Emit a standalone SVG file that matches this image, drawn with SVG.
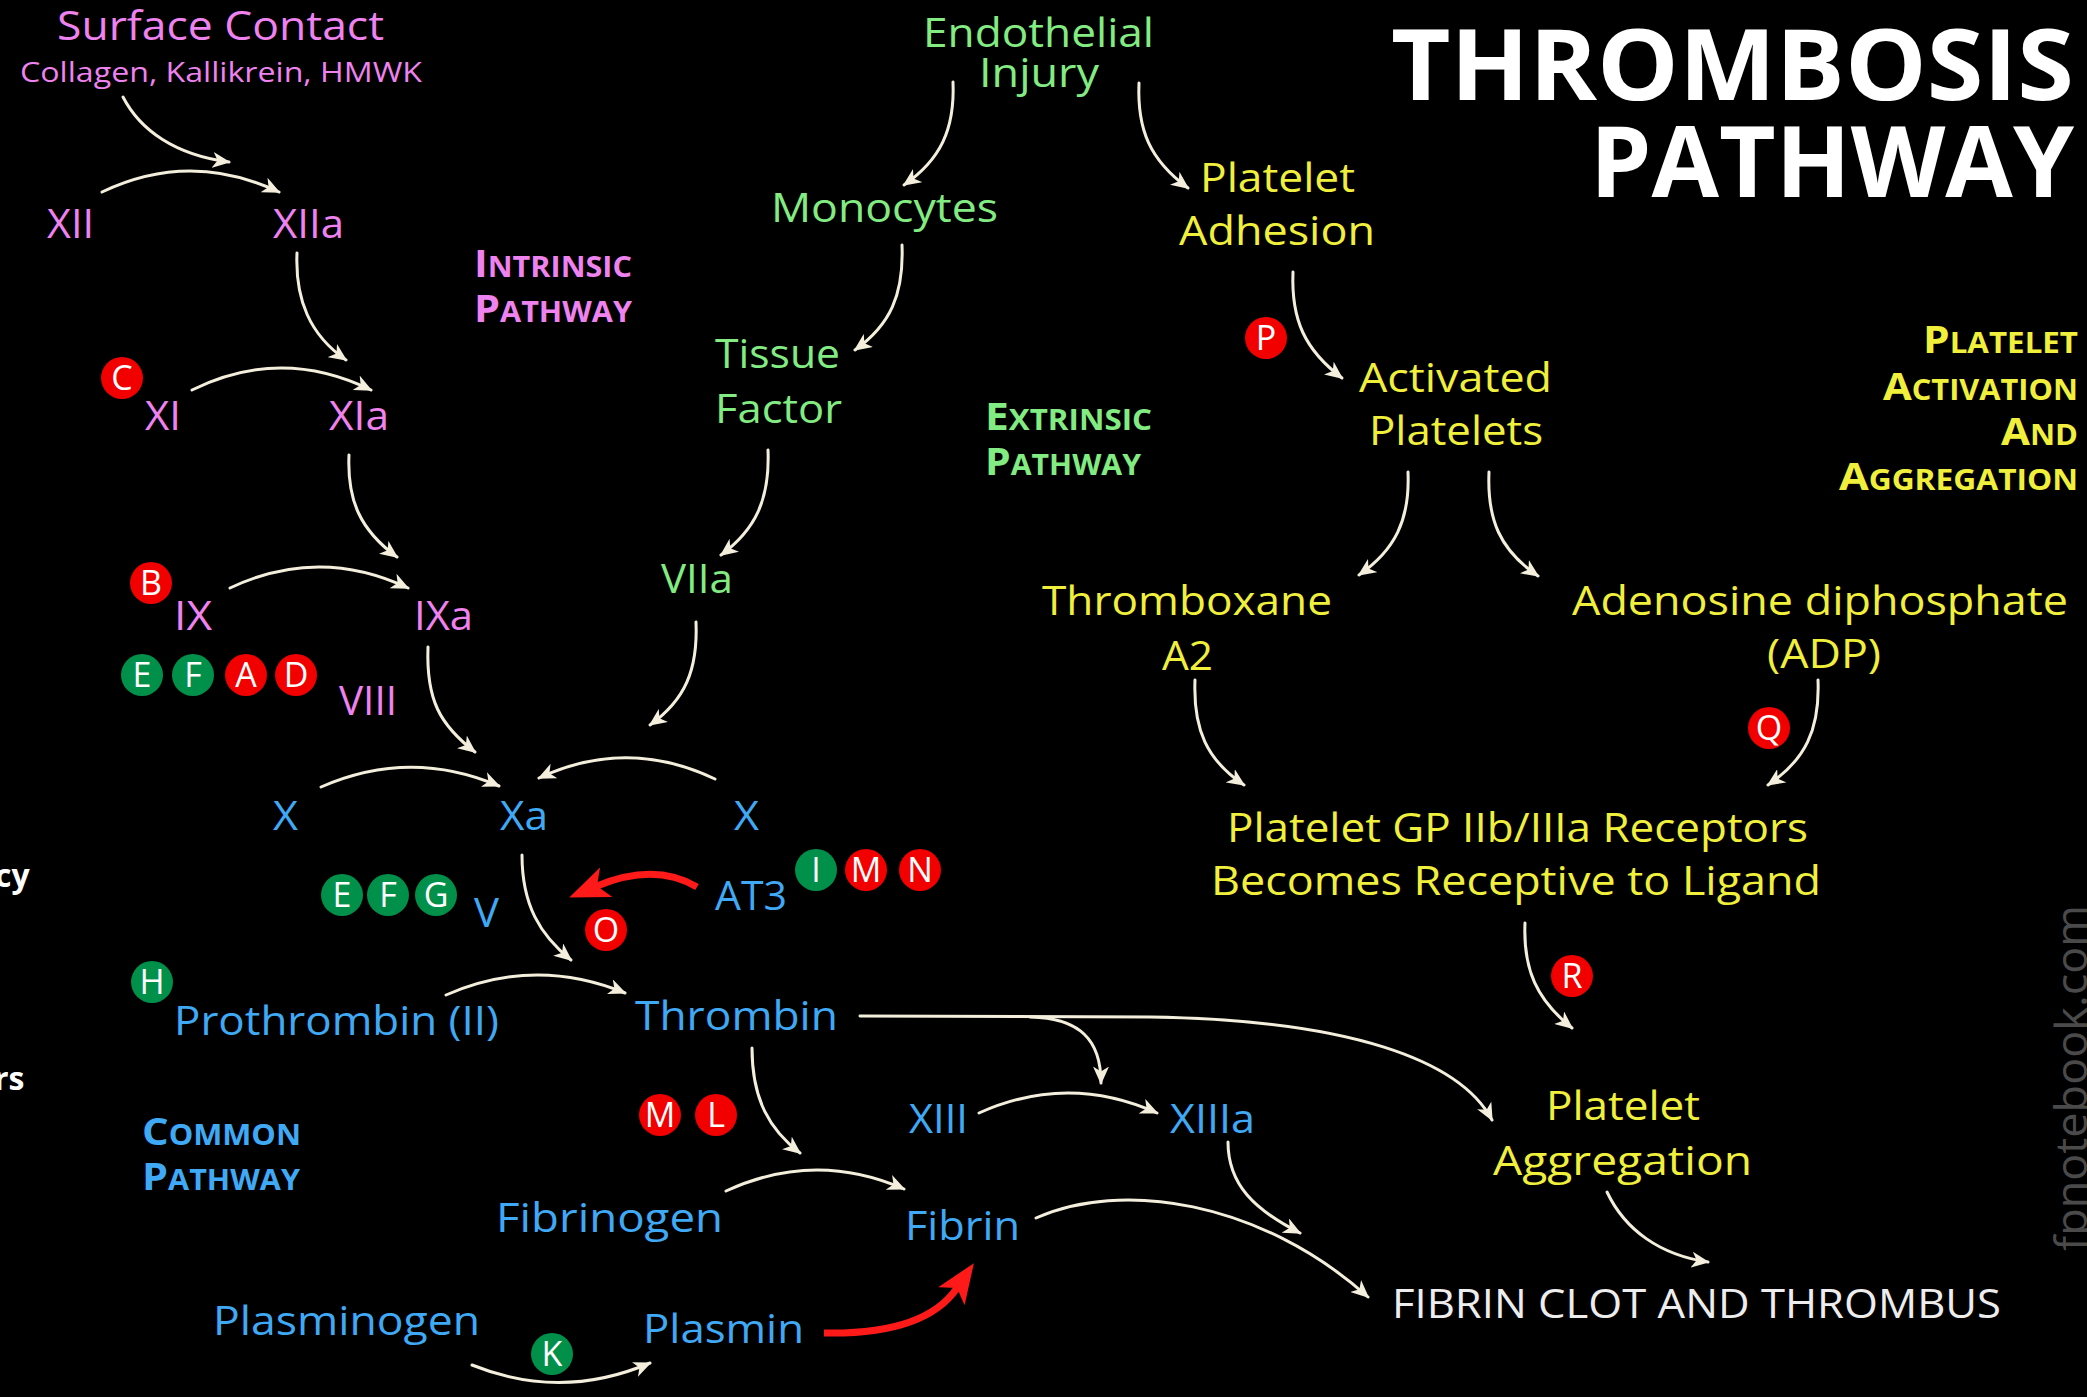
<svg xmlns="http://www.w3.org/2000/svg" width="2087" height="1397" viewBox="0 0 2087 1397">
<defs>
<style>
text{font-family:"Open Sans","Noto Sans","Liberation Sans",sans-serif;}
.n{font-size:40px;}
.pk{fill:#EE82EE}
.gr{fill:#82EC82}
.ye{fill:#F0F03C}
.bu{fill:#3FA9F5}
.wt{fill:#EDEDED}
.hd{font-weight:700;font-size:38px}
.sc{font-size:28px}
.c{fill:none;stroke:#F3EFDC;stroke-width:3;stroke-linecap:round;marker-end:url(#ah)}
.r{fill:none;stroke:#FF1A1A;stroke-width:7;marker-end:url(#rh)}
.bR{fill:#F20000}
.bG{fill:#00904A}
.bl{font-size:34px;fill:#FFFFFF;text-anchor:middle}
</style>
<marker id="ah" markerUnits="userSpaceOnUse" viewBox="0 0 20 16" markerWidth="20" markerHeight="16" refX="16.5" refY="8" orient="auto"><path d="M0,0 L18,8 L0,16 L5,8 Z" fill="#F3EFDC"/></marker>
<marker id="rh" markerUnits="userSpaceOnUse" viewBox="0 0 42 32" markerWidth="42" markerHeight="32" refX="10" refY="16" orient="auto"><path d="M0,0 L40,16 L0,32 L10,16 Z" fill="#FF1A1A"/></marker>
</defs>
<rect width="2087" height="1397" fill="#000000"/>

<g id="connectors">
<path class="c" d="M123,97 C140,130 175,155 229,162"/>
<path class="c" d="M102,192 Q190,150 279,192"/>
<path class="c" d="M297,253 C295,300 310,335 346,360"/>
<path class="c" d="M192,390 Q281,346 371,390"/>
<path class="c" d="M349,455 C347,500 360,530 397,557"/>
<path class="c" d="M230,588 Q319,546 408,588"/>
<path class="c" d="M428,647 C426,700 440,725 475,752"/>
<path class="c" d="M696,622 C698,670 685,700 650,725"/>
<path class="c" d="M321,787 Q410,748 499,786"/>
<path class="c" d="M715,779 Q627,737 539,778"/>
<path class="c" d="M522,855 C522,905 540,935 571,960"/>
<path class="c" d="M446,995 Q535,956 625,993"/>
<path class="c" d="M752,1048 C752,1100 770,1130 800,1153"/>
<path class="c" d="M860,1016 L1150,1017 C1350,1020 1460,1060 1492,1120"/>
<path class="c" d="M1030,1017 C1080,1018 1101,1040 1101,1083"/>
<path class="c" d="M979,1113 Q1068,1073 1157,1113"/>
<path class="c" d="M726,1191 Q815,1150 904,1189"/>
<path class="c" d="M1228,1142 C1228,1185 1255,1210 1300,1233"/>
<path class="c" d="M1036,1218 C1120,1180 1260,1200 1368,1297"/>
<path class="c" d="M472,1365 Q561,1401 650,1363"/>
<path class="c" d="M953,82 C955,130 940,160 904,185"/>
<path class="c" d="M1139,83 C1137,130 1150,160 1188,188"/>
<path class="c" d="M902,245 C904,295 890,325 855,350"/>
<path class="c" d="M768,450 C770,500 755,530 721,555"/>
<path class="c" d="M1293,272 C1291,320 1305,350 1342,378"/>
<path class="c" d="M1408,472 C1410,520 1395,550 1359,575"/>
<path class="c" d="M1489,472 C1487,520 1500,550 1538,576"/>
<path class="c" d="M1195,680 C1193,730 1207,760 1244,785"/>
<path class="c" d="M1818,680 C1820,730 1805,760 1768,785"/>
<path class="c" d="M1525,923 C1523,970 1537,1000 1572,1028"/>
<path class="c" d="M1607,1192 C1625,1230 1660,1255 1708,1262"/>
<path class="r" d="M697,887 Q655,862 597,886"/>
<path class="r" d="M824,1333 Q925,1335 957,1288"/>
</g>

<g id="title">
<text x="1391" y="100" font-family="Liberation Sans, sans-serif" font-weight="700" font-size="98" fill="#FFFFFF" textLength="683" lengthAdjust="spacingAndGlyphs">THROMBOSIS</text>
<text x="1590" y="197" font-family="Liberation Sans, sans-serif" font-weight="700" font-size="98" fill="#FFFFFF" textLength="484" lengthAdjust="spacingAndGlyphs">PATHWAY</text>
</g>

<g id="surface-contact">
<text class="n pk" x="57" y="40" textLength="327" lengthAdjust="spacingAndGlyphs">Surface Contact</text>
<text class="pk" x="20" y="82" font-size="28" textLength="402" lengthAdjust="spacingAndGlyphs">Collagen, Kallikrein, HMWK</text>
</g>
<g id="XII"><text class="n pk" x="47" y="238" textLength="47" lengthAdjust="spacingAndGlyphs">XII</text></g>
<g id="XIIa"><text class="n pk" x="273" y="238" textLength="71" lengthAdjust="spacingAndGlyphs">XIIa</text></g>
<g id="XI"><text class="n pk" x="145" y="430" textLength="36" lengthAdjust="spacingAndGlyphs">XI</text></g>
<g id="XIa"><text class="n pk" x="329" y="430" textLength="60" lengthAdjust="spacingAndGlyphs">XIa</text></g>
<g id="IX"><text class="n pk" x="174" y="630" textLength="38" lengthAdjust="spacingAndGlyphs">IX</text></g>
<g id="IXa"><text class="n pk" x="414" y="630" textLength="59" lengthAdjust="spacingAndGlyphs">IXa</text></g>
<g id="VIII"><text class="n pk" x="339" y="715" textLength="58" lengthAdjust="spacingAndGlyphs">VIII</text></g>
<g id="intrinsic-label">
<text class="hd pk" x="474" y="277" textLength="158" lengthAdjust="spacingAndGlyphs">I<tspan class="sc">NTRINSIC</tspan></text>
<text class="hd pk" x="474" y="322" textLength="158" lengthAdjust="spacingAndGlyphs">P<tspan class="sc">ATHWAY</tspan></text>
</g>

<g id="endothelial-injury">
<text class="n gr" x="923" y="47" textLength="231" lengthAdjust="spacingAndGlyphs">Endothelial</text>
<text class="n gr" x="979" y="87" textLength="120" lengthAdjust="spacingAndGlyphs">Injury</text>
</g>
<g id="monocytes"><text class="n gr" x="771" y="222" textLength="227" lengthAdjust="spacingAndGlyphs">Monocytes</text></g>
<g id="tissue-factor">
<text class="n gr" x="715" y="368" textLength="125" lengthAdjust="spacingAndGlyphs">Tissue</text>
<text class="n gr" x="715" y="423" textLength="127" lengthAdjust="spacingAndGlyphs">Factor</text>
</g>
<g id="VIIa"><text class="n gr" x="661" y="593" textLength="72" lengthAdjust="spacingAndGlyphs">VIIa</text></g>
<g id="extrinsic-label">
<text class="hd gr" x="985" y="430" textLength="167" lengthAdjust="spacingAndGlyphs">E<tspan class="sc">XTRINSIC</tspan></text>
<text class="hd gr" x="985" y="475" textLength="156" lengthAdjust="spacingAndGlyphs">P<tspan class="sc">ATHWAY</tspan></text>
</g>

<g id="X-left"><text class="n bu" x="273" y="830" textLength="25" lengthAdjust="spacingAndGlyphs">X</text></g>
<g id="Xa"><text class="n bu" x="500" y="830" textLength="48" lengthAdjust="spacingAndGlyphs">Xa</text></g>
<g id="X-right"><text class="n bu" x="734" y="830" textLength="25" lengthAdjust="spacingAndGlyphs">X</text></g>
<g id="V"><text class="n bu" x="474" y="927" textLength="25" lengthAdjust="spacingAndGlyphs">V</text></g>
<g id="AT3"><text class="n bu" x="715" y="910" textLength="72" lengthAdjust="spacingAndGlyphs">AT3</text></g>
<g id="prothrombin"><text class="n bu" x="174" y="1035" textLength="325" lengthAdjust="spacingAndGlyphs">Prothrombin (II)</text></g>
<g id="thrombin"><text class="n bu" x="635" y="1030" textLength="203" lengthAdjust="spacingAndGlyphs">Thrombin</text></g>
<g id="XIII"><text class="n bu" x="909" y="1133" textLength="59" lengthAdjust="spacingAndGlyphs">XIII</text></g>
<g id="XIIIa"><text class="n bu" x="1170" y="1133" textLength="85" lengthAdjust="spacingAndGlyphs">XIIIa</text></g>
<g id="fibrinogen"><text class="n bu" x="496" y="1232" textLength="227" lengthAdjust="spacingAndGlyphs">Fibrinogen</text></g>
<g id="fibrin"><text class="n bu" x="905" y="1240" textLength="115" lengthAdjust="spacingAndGlyphs">Fibrin</text></g>
<g id="plasminogen"><text class="n bu" x="213" y="1335" textLength="267" lengthAdjust="spacingAndGlyphs">Plasminogen</text></g>
<g id="plasmin"><text class="n bu" x="643" y="1343" textLength="161" lengthAdjust="spacingAndGlyphs">Plasmin</text></g>
<g id="common-label">
<text class="hd bu" x="142" y="1145" textLength="159" lengthAdjust="spacingAndGlyphs">C<tspan class="sc">OMMON</tspan></text>
<text class="hd bu" x="142" y="1190" textLength="158" lengthAdjust="spacingAndGlyphs">P<tspan class="sc">ATHWAY</tspan></text>
</g>

<g id="platelet-adhesion">
<text class="n ye" x="1200" y="192" textLength="155" lengthAdjust="spacingAndGlyphs">Platelet</text>
<text class="n ye" x="1179" y="245" textLength="196" lengthAdjust="spacingAndGlyphs">Adhesion</text>
</g>
<g id="activated-platelets">
<text class="n ye" x="1359" y="392" textLength="193" lengthAdjust="spacingAndGlyphs">Activated</text>
<text class="n ye" x="1369" y="445" textLength="174" lengthAdjust="spacingAndGlyphs">Platelets</text>
</g>
<g id="thromboxane">
<text class="n ye" x="1042" y="615" textLength="290" lengthAdjust="spacingAndGlyphs">Thromboxane</text>
<text class="n ye" x="1162" y="670" textLength="51" lengthAdjust="spacingAndGlyphs">A2</text>
</g>
<g id="adp">
<text class="n ye" x="1572" y="615" textLength="496" lengthAdjust="spacingAndGlyphs">Adenosine diphosphate</text>
<text class="n ye" x="1767" y="668" textLength="114" lengthAdjust="spacingAndGlyphs">(ADP)</text>
</g>
<g id="gp-receptors">
<text class="n ye" x="1227" y="842" textLength="581" lengthAdjust="spacingAndGlyphs">Platelet GP IIb/IIIa Receptors</text>
<text class="n ye" x="1211" y="895" textLength="610" lengthAdjust="spacingAndGlyphs">Becomes Receptive to Ligand</text>
</g>
<g id="platelet-aggregation">
<text class="n ye" x="1546" y="1120" textLength="154" lengthAdjust="spacingAndGlyphs">Platelet</text>
<text class="n ye" x="1493" y="1175" textLength="259" lengthAdjust="spacingAndGlyphs">Aggregation</text>
</g>
<g id="platelet-label">
<text class="hd ye" x="1923" y="353" textLength="155" lengthAdjust="spacingAndGlyphs">P<tspan class="sc">LATELET</tspan></text>
<text class="hd ye" x="1883" y="400" textLength="195" lengthAdjust="spacingAndGlyphs">A<tspan class="sc">CTIVATION</tspan></text>
<text class="hd ye" x="2001" y="445" textLength="77" lengthAdjust="spacingAndGlyphs">A<tspan class="sc">ND</tspan></text>
<text class="hd ye" x="1839" y="490" textLength="239" lengthAdjust="spacingAndGlyphs">A<tspan class="sc">GGREGATION</tspan></text>
</g>
<g id="fibrin-clot"><text class="n wt" x="1392" y="1318" textLength="609" lengthAdjust="spacingAndGlyphs">FIBRIN CLOT AND THROMBUS</text></g>

<g id="badges">
<g id="badge-C"><circle class="bR" cx="122" cy="378" r="21"/><text class="bl" x="122" y="390">C</text></g>
<g id="badge-B"><circle class="bR" cx="151" cy="583" r="21"/><text class="bl" x="151" y="595">B</text></g>
<g id="badge-E1"><circle class="bG" cx="142" cy="675" r="21"/><text class="bl" x="142" y="687">E</text></g>
<g id="badge-F1"><circle class="bG" cx="193" cy="675" r="21"/><text class="bl" x="193" y="687">F</text></g>
<g id="badge-A"><circle class="bR" cx="246" cy="675" r="21"/><text class="bl" x="246" y="687">A</text></g>
<g id="badge-D"><circle class="bR" cx="296" cy="675" r="21"/><text class="bl" x="296" y="687">D</text></g>
<g id="badge-E2"><circle class="bG" cx="342" cy="895" r="21"/><text class="bl" x="342" y="907">E</text></g>
<g id="badge-F2"><circle class="bG" cx="388" cy="895" r="21"/><text class="bl" x="388" y="907">F</text></g>
<g id="badge-G"><circle class="bG" cx="436" cy="895" r="21"/><text class="bl" x="436" y="907">G</text></g>
<g id="badge-I"><circle class="bG" cx="816" cy="870" r="21"/><text class="bl" x="816" y="882">I</text></g>
<g id="badge-M1"><circle class="bR" cx="866" cy="870" r="21"/><text class="bl" x="866" y="882">M</text></g>
<g id="badge-N"><circle class="bR" cx="920" cy="870" r="21"/><text class="bl" x="920" y="882">N</text></g>
<g id="badge-O"><circle class="bR" cx="606" cy="930" r="21"/><text class="bl" x="606" y="942">O</text></g>
<g id="badge-H"><circle class="bG" cx="152" cy="982" r="21"/><text class="bl" x="152" y="994">H</text></g>
<g id="badge-M2"><circle class="bR" cx="660" cy="1115" r="21"/><text class="bl" x="660" y="1127">M</text></g>
<g id="badge-L"><circle class="bR" cx="716" cy="1115" r="21"/><text class="bl" x="716" y="1127">L</text></g>
<g id="badge-K"><circle class="bG" cx="552" cy="1354" r="21"/><text class="bl" x="552" y="1366">K</text></g>
<g id="badge-P"><circle class="bR" cx="1266" cy="338" r="21"/><text class="bl" x="1266" y="350">P</text></g>
<g id="badge-Q"><circle class="bR" cx="1769" cy="728" r="21"/><text class="bl" x="1769" y="740">Q</text></g>
<g id="badge-R"><circle class="bR" cx="1572" cy="976" r="21"/><text class="bl" x="1572" y="988">R</text></g>
</g>

<g id="edge-text">
<text x="-5" y="887" font-size="32" font-weight="700" fill="#FFFFFF">cy</text>
<text x="-6" y="1090" font-size="32" font-weight="700" fill="#FFFFFF">rs</text>
</g>
<g id="watermark">
<text transform="translate(2087,1251) rotate(-90)" x="0" y="0" font-size="44" fill="#4A4A4A" textLength="346" lengthAdjust="spacingAndGlyphs">fpnotebook.com</text>
</g>
</svg>
